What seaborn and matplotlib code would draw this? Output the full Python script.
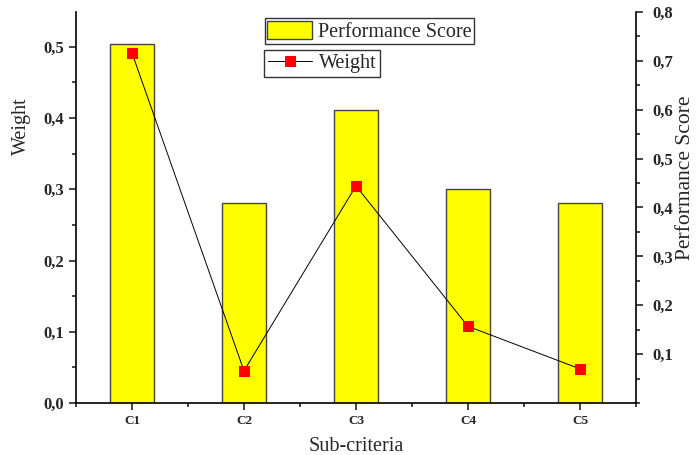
import numpy as np
import pandas as pd
import seaborn as sns
import matplotlib.pyplot as plt
from matplotlib.ticker import MultipleLocator, FuncFormatter

# values
criteria = ["C1", "C2", "C3", "C4", "C5"]
bar_values = [0.504, 0.281, 0.411, 0.301, 0.281]     # left axis, drawn as bars
line_values = [0.716, 0.066, 0.444, 0.157, 0.070]    # right axis, drawn as line

sns.set_style("ticks")
plt.rcParams['font.family'] = ['Liberation Serif', 'DejaVu Serif']

df = pd.DataFrame({"crit": criteria, "bar": bar_values, "line": line_values})

fig, ax = plt.subplots(figsize=(6.97, 4.55), dpi=100)
fig.subplots_adjust(left=0.109, right=0.9125, bottom=0.114, top=0.974)

sns.barplot(data=df, x="crit", y="bar", ax=ax, color="#FFFF00", width=0.4,
            edgecolor="#444444", linewidth=1.0, saturation=1)
ax.set_xlim(-0.5, 4.5)
ax.set_ylim(0, 0.549)

ax2 = ax.twinx()
sns.lineplot(data=df, x="crit", y="line", ax=ax2, color="black", lw=0.7,
             marker="s", markersize=7, markerfacecolor="red", markeredgecolor="red")
ax2.set_ylim(0, 0.8)
ax.set_xlim(-0.5, 4.5)

fmt = FuncFormatter(lambda v, p: f"{v:.1f}".replace(".", ","))
ax.yaxis.set_major_locator(MultipleLocator(0.1))
ax.yaxis.set_minor_locator(MultipleLocator(0.05))
ax.yaxis.set_major_formatter(fmt)
ax2.set_yticks([0.1, 0.2, 0.3, 0.4, 0.5, 0.6, 0.7, 0.8])
ax2.yaxis.set_minor_locator(MultipleLocator(0.05))
ax2.yaxis.set_major_formatter(fmt)
ax.set_xticks(range(len(criteria)))
ax.set_xticks(np.arange(-0.5, 4.6, 1.0), minor=True)
ax.set_xticklabels(criteria)

for a in (ax, ax2):
    a.spines["top"].set_visible(False)
    for s in a.spines.values():
        s.set_linewidth(1.2)
        s.set_color("black")
    a.tick_params(which="major", length=5, width=1.2, direction="out")
    a.tick_params(which="minor", length=3, width=1.2, direction="out")
ax.spines["right"].set_visible(False)
ax2.spines["left"].set_visible(False)
ax2.spines["bottom"].set_visible(False)
ax2.tick_params(axis="y", which="major", pad=7)

for lab in ax.get_yticklabels() + ax2.get_yticklabels():
    lab.set_fontweight("bold")
    lab.set_fontsize(12)
for lab in ax.get_xticklabels():
    lab.set_fontweight("bold")
    lab.set_fontsize(9.5)

ax.set_xlabel("Sub-criteria", fontsize=14.5)
ax.xaxis.set_label_coords(0.5, -0.087)
ax.set_ylabel("Weight", fontsize=14.5)
ax.yaxis.set_label_coords(-0.080, 0.708)
ax2.set_ylabel("Performance Score", fontsize=15.5)
ax2.yaxis.set_label_coords(1.071, 0.575)

bar_handle = ax.patches[0]
leg1 = fig.legend([bar_handle], ["Performance Score"], loc="upper left",
                  bbox_to_anchor=(0.380, 0.960), fancybox=False, edgecolor="#333333",
                  fontsize=14.5, framealpha=1, borderpad=0.12, handlelength=2.2,
                  handleheight=1.05, handletextpad=0.3, borderaxespad=0)
line_handle = ax2.get_lines()[0]
leg2 = fig.legend([line_handle], ["Weight"], loc="upper left",
                  bbox_to_anchor=(0.379, 0.890), fancybox=False, edgecolor="#333333",
                  fontsize=14.5, framealpha=1, borderpad=0.2, handlelength=2.2,
                  handletextpad=0.3, borderaxespad=0)

plt.savefig("out.png", dpi=100)
